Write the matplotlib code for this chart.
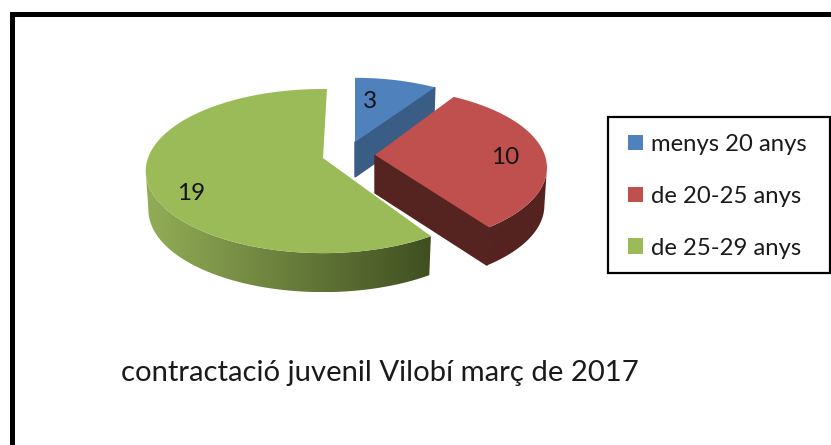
import numpy as np
import matplotlib
matplotlib.use("Agg")
import matplotlib.pyplot as plt
from matplotlib.patches import Patch, Polygon, Rectangle
from matplotlib.colors import LinearSegmentedColormap

labels = ["menys 20 anys", "de 20-25 anys", "de 25-29 anys"]
values = [3, 10, 19]
title = "contractació juvenil Vilobí març de 2017"

top_colors = ["#4F81BD", "#C0504D", "#9BBB59"]
wall_light = ["#3A5D86", "#552320", "#93AE57"]
wall_dark = ["#3A5D86", "#552320", "#3F4E20"]
apex = [(355, 142), (375, 155), (323, 158)]
scale = [0.93, 0.97, 1.0]
depth = [35, 38, 39]
tilt_deg = [0, -2, 1.5]
label_xy = [(370, 102), (505, 158), (191, 194)]

RX, RY, P = 175.0, 80.0, 0.159
SHRINK = 0.985
plt.rcParams["font.family"] = ["Lato", "DejaVu Sans"]

fig = plt.figure(figsize=(8.31, 4.45), dpi=100)
ax = fig.add_axes([0, 0, 1, 1])
ax.axis("off")


def project(a, c, s):
    """a: clockwise angle from 12 o'clock, radians; perspective-squashed disc."""
    u, v = np.sin(a), np.cos(a)
    w = 1 + P * v
    return c[0] + s * RX * u / w, c[1] - s * RY * v / w


total = sum(values)
edges = np.concatenate([[0], np.cumsum(values)]) / total * 2 * np.pi

for i, val in enumerate(values):
    rot = np.deg2rad(tilt_deg[i])
    c, s, d = apex[i], scale[i], depth[i]
    th = np.linspace(edges[i] + rot, edges[i + 1] + rot, 300)
    xr, yr = project(th, c, s)
    z = 2 + i

    # rim of the slice, shaded left to right; starts at the silhouette point
    front = np.cos(th) < -P
    if i > 0:
        rx, ry = xr[front], yr[front]
        lx = c[0] + (rx - c[0]) * SHRINK
        poly = Polygon(np.c_[np.r_[rx, lx[::-1]], np.r_[ry, ry[::-1] + d]],
                       closed=True, fc="none", ec="none", transform=ax.transData)
        ax.add_patch(poly)
        cmap = LinearSegmentedColormap.from_list("w", [wall_light[i], wall_dark[i]])
        im = ax.imshow(np.linspace(0, 1, 256)[None, :], cmap=cmap, aspect="auto",
                       extent=(rx.min() - 3, rx.max() + 3, ry.max() + d, ry.min()), zorder=z)
        im.set_clip_path(poly)

    # radial face turned toward the viewer (blue and red only), over the rim seam
    if i < 2:
        fx = [c[0], xr[-1], c[0] + (xr[-1] - c[0]) * SHRINK, c[0]]
        fy = [c[1], yr[-1], yr[-1] + d, c[1] + d]
        ax.fill(fx, fy, fc=wall_dark[i], ec=wall_dark[i], lw=1.0, zorder=z)

    # top face
    ax.fill(np.r_[c[0], xr], np.r_[c[1], yr], color=top_colors[i], lw=0, zorder=z)
    ax.text(*label_xy[i], str(val), ha="center", va="center", fontsize=17.5,
            color="#141414", zorder=10)

ax.set_xlim(0, 831)
ax.set_ylim(445, 0)

# outer border, cut by the right and bottom image edges
ax.plot([11.5, 11.5, 831], [445, 13.5, 13.5], color="black", lw=3.6,
        solid_joinstyle="miter", clip_on=False, zorder=1)

ax.text(121, 373, title, ha="left", va="center", fontsize=21.1, color="#1a1a1a")

# legend frame and contents
ax.add_patch(Rectangle((607.5, 116.5), 222, 156, fc="white", ec="black", lw=1.6, zorder=5))
handles = [Patch(facecolor=c, edgecolor="none") for c in top_colors]
leg = ax.legend(handles, labels, loc="upper left",
                bbox_to_anchor=(628, 134), bbox_transform=ax.transData,
                fontsize=17.2, frameon=False, borderaxespad=0, borderpad=0,
                labelspacing=1.29, handlelength=0.62, handleheight=0.62,
                handletextpad=0.33)
for t in leg.get_texts():
    t.set_color("#1a1a1a")
leg.set_zorder(6)

fig.savefig("out.png", dpi=100)
